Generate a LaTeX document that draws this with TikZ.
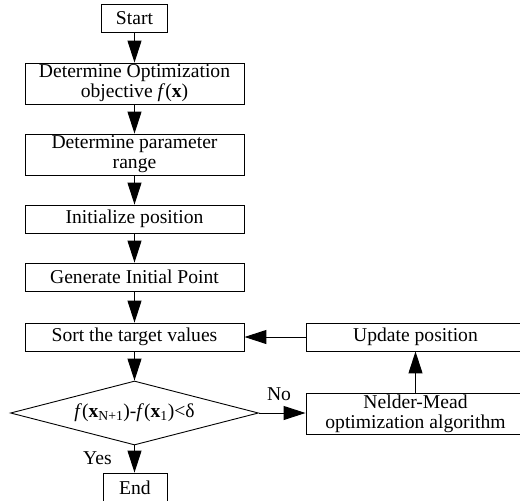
\documentclass[tikz,border=0pt]{standalone}
\usepackage{fontspec}
\setmainfont{Liberation Serif}
\usetikzlibrary{arrows.meta,shapes.geometric}
\begin{document}
\begin{tikzpicture}[x=1pt,y=-1pt,
  font=\fontsize{19.6}{20}\selectfont,
  box/.style={draw=black,line width=0.9pt,minimum width=219pt,inner sep=0pt,align=center},
  small/.style={draw=black,line width=0.9pt,minimum width=66pt,inner sep=0pt,align=center},
  arr/.style={line width=1pt,-{Triangle[length=22pt,width=14pt]}},
  lbl/.style={inner sep=0pt}]
\clip (0,0) rectangle (520,501);
\fill[white] (0,0) rectangle (520,501);
\node[small,minimum height=28pt] (start) at (134.5,18) {Start};
\node[box,minimum height=41pt] (obj) at (134.5,83.5) {Determine Optimization\\objective \textit{f}(\textbf{x})};
\node[box,minimum height=41pt] (range) at (134.5,154.5) {Determine parameter\\range};
\node[box,minimum height=28pt] (init) at (134.5,219) {Initialize position};
\node[box,minimum height=28pt] (gen) at (134.5,277) {Generate Initial Point};
\node[box,minimum height=28pt] (sort) at (134.5,337) {Sort the target values};
\node[diamond,draw=black,line width=0.9pt,aspect=3.875,minimum width=248pt,minimum height=64pt,inner sep=0pt] (dec) at (134.5,413)
  {\textit{f}(\textbf{x}\textsubscript{N+1})-\textit{f}(\textbf{x}\textsubscript{1})<δ};
\node[small,minimum width=64pt,minimum height=30pt] (end) at (135,488) {End};
\node[box,minimum height=28pt] (upd) at (415.5,337) {Update position};
\node[box,minimum height=41pt] (nm) at (415.5,413.5) {Nelder-Mead\\optimization algorithm};
\draw[arr] (start) -- (obj);
\draw[arr] (obj) -- (range);
\draw[arr] (range) -- (init);
\draw[arr] (init) -- (gen);
\draw[arr] (gen) -- (sort);
\draw[arr] (sort) -- (dec);
\draw[arr] (dec.south) -- (dec.south |- end.north);
\draw[arr] (dec.east) -- (nm.west |- dec.east);
\draw[arr] (nm) -- (upd);
\draw[arr] (upd) -- (sort);
\node[lbl] (no) at (279,394) {No};
\node[lbl] (yes) at (97.5,458) {Yes};
\end{tikzpicture}
\end{document}
